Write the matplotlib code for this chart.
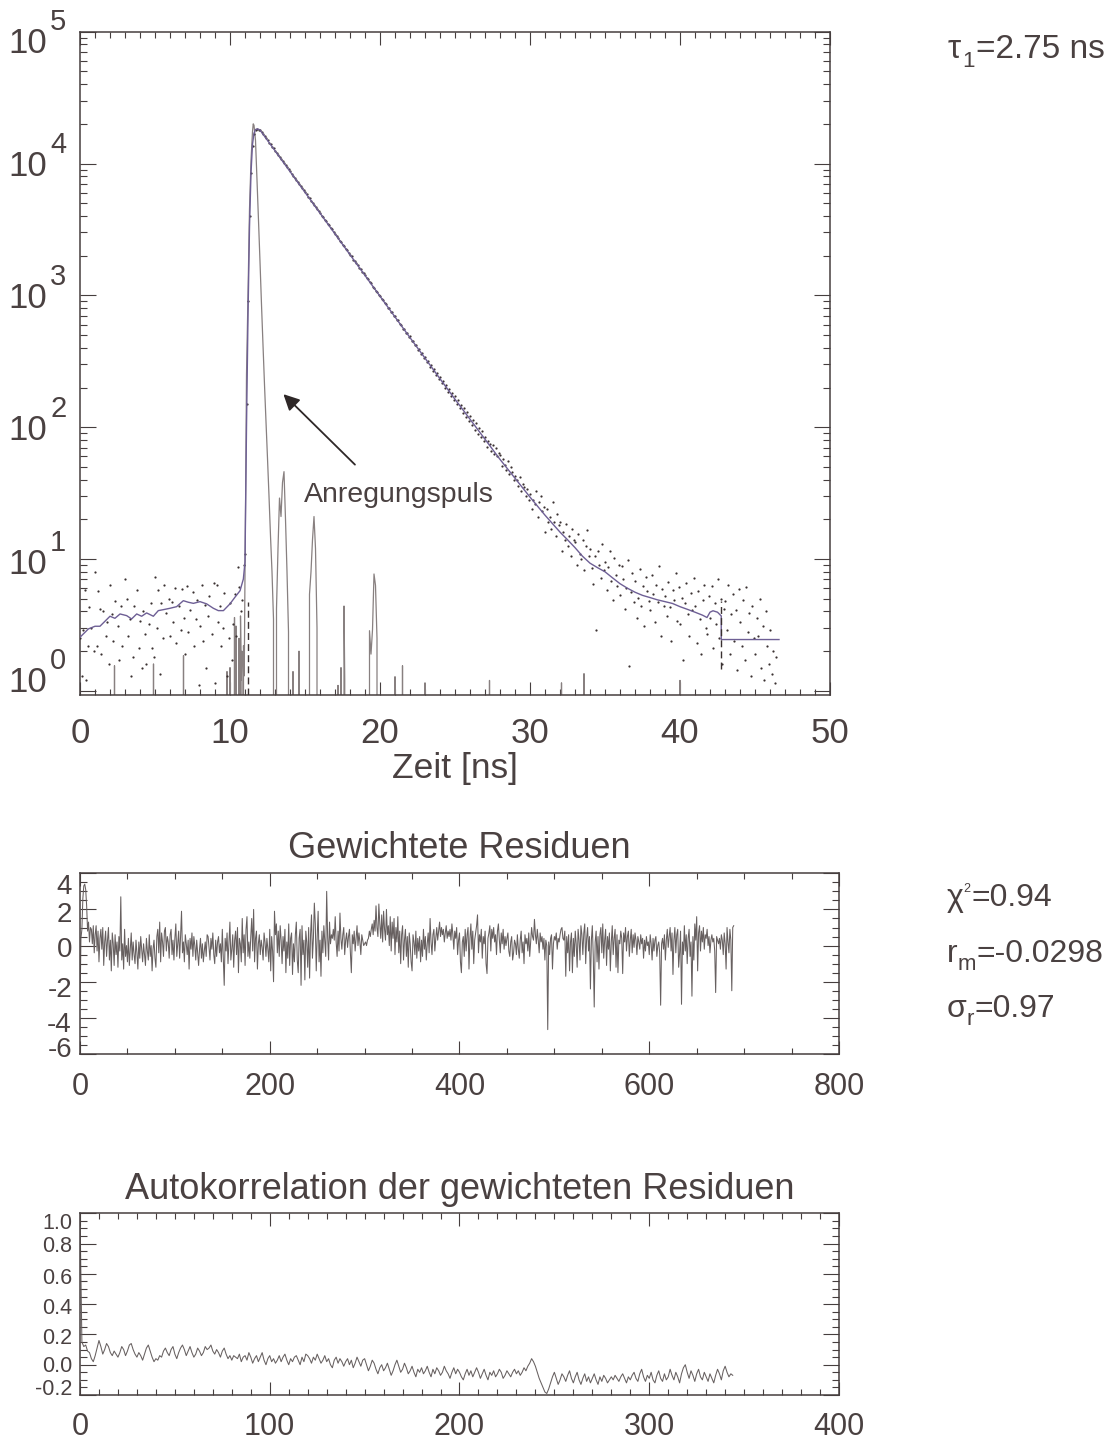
import numpy as np
import matplotlib
matplotlib.use("Agg")
import matplotlib.pyplot as plt
from matplotlib.ticker import MultipleLocator, LogLocator, NullFormatter
from matplotlib.text import Annotation

plt.rcParams['font.family'] = ['Liberation Sans', 'DejaVu Sans']

# ---------------- data ----------------
# measured decay (counts per 0.1 ns bin, starting at 0 ns)
sample_step_ns = 0.1
decay_counts = [
    2.5, 1.3, 2.9, 5.8, 1.2, 2.2, 4.3, 3.0, 0, 2.0,
    8.0, 2.2, 5.7, 4.2, 1.9, 4.0, 0, 2.6, 3.3, 1.6,
    6.3, 3.8, 2.4, 4.8, 0, 3.1, 1.7, 4.4, 2.2, 0,
    7.0, 5.0, 2.6, 3.5, 1.3, 1.8, 4.4, 0, 5.8, 2.1,
    3.4, 1.5, 4.0, 2.7, 1.6, 0, 3.2, 4.6, 2.1, 1.8,
    7.3, 3.0, 5.8, 1.35, 4.6, 2.5, 6.4, 3.9, 0, 5.0,
    2.6, 4.7, 3.3, 6.0, 2.3, 0, 4.4, 2.9, 5.9, 3.6,
    1.9, 6.2, 2.8, 4.1, 0, 5.6, 2.2, 3.5, 4.9, 1.1,
    3.1, 6.3, 2.4, 4.5, 1.5, 3.7, 5.2, 0, 2.7, 6.6,
    1.15, 6.3, 3.3, 4.4, 2.2, 3.0, 5.5, 0, 1.3, 2.5,
    4.6, 1.7, 3.2, 5.4, 2.6, 8.7, 6.1, 4.0, 4.9, 9.0,
    11, 150, 900, 4000, 8500, 13500, 16800, 18100, 18200, 18000,
    17950, 17400, 16700, 16180, 15520, 15050, 14430, 13990, 13420, 13010,
    12480, 12100, 11600, 11250, 10790, 10460, 10030, 9730, 9330, 9040,
    8720, 8360, 8110, 7770, 7540, 7230, 7010, 6720, 6520, 6250,
    6030, 5850, 5600, 5440, 5210, 5060, 4840, 4700, 4500, 4370,
    4220, 4030, 3930, 3750, 3650, 3490, 3390, 3240, 3160, 3020,
    2930, 2800, 2730, 2600, 2540, 2420, 2360, 2250, 2195, 2095,
    2020, 1975, 1870, 1835, 1745, 1705, 1620, 1590, 1505, 1475,
    1425, 1350, 1325, 1255, 1232, 1165, 1145, 1085, 1068, 1005,
    995, 935, 925, 868, 860, 808, 800, 752, 745, 698,
    695, 648, 645, 603, 600, 560, 556, 520, 518, 484,
    490, 450, 452, 418, 421, 388, 392, 360, 364, 334,
    340, 312, 316, 288, 294, 268, 274, 249, 256, 231,
    242, 216, 226, 200, 210, 186, 196, 173, 183, 162,
    172, 150, 160, 139, 148, 128, 140, 120, 130, 112,
    122, 104, 114, 96, 107, 89, 99, 84, 93, 78,
    84, 71, 78, 74, 66, 73, 63, 69, 60, 64,
    61, 51, 57, 52, 47, 55, 44, 50, 46, 40,
    43, 40, 36, 42, 33, 37, 35, 30, 34, 28,
    31, 24, 28, 26, 33, 21, 27, 30, 23, 25,
    16, 24, 19, 21, 17, 27, 19, 15, 22, 18,
    19, 11.5, 16, 14, 18.5, 12.5, 15, 10.5, 17, 14,
    13.5, 9, 15.5, 11, 10, 14, 8.2, 12.5, 16.5, 10.5,
    12, 8.5, 6.5, 10.5, 2.9, 11.5, 9, 7.2, 13, 8.3,
    9.5, 5.8, 8.7, 11.5, 6.8, 4.9, 10.2, 7.5, 6.2, 9,
    5.3, 8.9, 7.1, 4.2, 6, 9.8, 1.55, 5.6, 7.8, 4.7,
    6.8, 3.6, 5.1, 8.4, 4.4, 6.2, 3.1, 7.3, 5.7, 4.8,
    4.1, 7.6, 5.4, 3.3, 6.3, 4.7, 8.9, 2.6, 5.9, 4.4,
    5.2, 3.7, 6.7, 4.3, 2.4, 5.8, 4.9, 7.9, 3.4, 6.1,
    3.2, 5.1, 1.7, 4.6, 6.6, 3.8, 2.6, 5.5, 4.1, 7.2,
    4.4, 2.3, 5.7, 3.5, 1.9, 4.9, 6.4, 3.0, 2.7, 5.2,
    3.6, 6.2, 2.1, 4.6, 3.2, 7.1, 2.5, 5.0, 1.6, 4.2,
    4.8, 2.9, 6.3, 1.9, 3.8, 5.4, 2.4, 4.1, 1.45, 5.9,
    3.3, 2.2, 4.9, 1.7, 6.1, 2.8, 3.9, 1.3, 4.4, 2.5,
    1.9, 3.6, 2.6, 5.0, 1.5, 3.1, 1.2, 4.0, 2.2, 1.6,
    2.9, 1.35, 2.0, 1.15, 1.8,
]

# fitted curve (tau1 = 2.75 ns)
fit_time_ns = [
    0.0, 0.56, 1.0, 1.33, 2.0, 2.33, 2.67, 3.11, 3.44, 3.78,
    4.11, 4.44, 4.89, 5.22, 5.56, 6.0, 6.44, 6.89, 7.22, 7.56,
    8.0, 8.44, 8.89, 9.22, 9.56, 10.0, 10.33, 10.67, 10.89,
    11.0, 11.1, 11.2, 11.3, 11.4, 11.5, 11.6, 11.7, 11.8, 11.9, 12.0,
    13, 14, 15, 16, 17, 18, 19, 20, 21, 22, 23, 24, 25, 26, 27, 28, 29,
    30, 31, 32,
    32.5, 33, 33.5, 34, 34.5, 35, 35.5, 36, 36.5, 37,
    37.5, 38, 38.5, 39, 39.5, 40, 40.5, 41, 41.5,
    41.8, 42.0, 42.2, 42.5, 42.75, 42.75, 46.6,
]
fit_counts = [
    2.55, 2.95, 3.09, 3.09, 3.68, 3.55, 3.83, 3.72, 3.51, 3.83,
    3.68, 3.9, 3.68, 4.06, 4.13, 4.23, 4.35, 4.83, 4.7, 4.61,
    4.75, 4.57, 4.23, 4.06, 4.06, 4.57, 5.13, 5.75, 7.05,
    9.5, 100, 700, 3300, 8500, 14000, 17000, 18100, 18300, 18200, 17950,
    12510, 8700, 6050, 4207, 2925, 2035, 1416, 985, 686, 478, 334, 233, 163, 115, 81, 57, 41,
    29.5, 21.5, 16,
    14, 12.2, 10.5, 9.3, 8.6, 8.0, 7.2, 6.5, 6.0, 5.6,
    5.3, 5.1, 4.9, 4.75, 4.6, 4.35, 4.15, 3.95, 3.75,
    3.6, 3.95, 4.05, 3.95, 3.7, 2.45, 2.45,
]

# instrument response (excitation pulse)
irf_time_ns = [
    0.0, 2.25, 2.3, 2.35, 4.85, 4.9, 4.95, 6.85, 6.9, 6.95,
    9.75, 9.8, 9.85, 9.95, 10.0, 10.05, 10.25, 10.3, 10.35, 10.4,
    10.45, 10.55, 10.6, 10.65, 10.7, 10.75, 10.8, 10.85, 10.9, 10.95,
    11.0, 11.05, 11.1, 11.2, 11.3, 11.4, 11.5, 11.55, 11.6, 11.7,
    11.8, 11.9, 12.0, 12.1, 12.2, 12.3, 12.4, 12.5, 12.6, 12.7,
    12.8, 12.9, 13.0, 13.1, 13.2, 13.3, 13.4, 13.5, 13.6, 13.7,
    13.8, 13.9, 14.0, 14.15, 14.2, 14.25, 14.55, 14.6, 14.65, 15.2,
    15.3, 15.4, 15.5, 15.6, 15.7, 15.8, 15.9, 17.15, 17.2, 17.25,
    17.35, 17.4, 17.45, 17.55, 17.6, 17.65, 17.7, 19.25, 19.3, 19.4,
    19.5, 19.6, 19.7, 19.8, 19.9, 20.95, 21.0, 21.05, 21.45, 21.5,
    21.55, 22.95, 23.0, 23.05, 27.25, 27.3, 27.35, 32.05, 32.1, 32.15,
    33.55, 33.6, 33.65, 39.95, 40.0, 40.05, 46.5,
]
irf_counts = [
    0, 0, 1.55, 0, 0, 1.6, 0, 0, 1.85, 0,
    0, 1.4, 0, 0, 1.5, 0, 0, 3.6, 0, 3.1,
    0, 0, 2.5, 0, 3.7, 1.2, 2.0, 0, 2.2, 1.3,
    8, 40, 250, 1000, 4500, 10500, 17500, 20000, 19500, 15000,
    7500, 3700, 1800, 850, 420, 210, 110, 58, 30, 15,
    8, 3.5, 0, 4.2, 12, 29, 21, 38, 46, 20,
    8, 2.8, 0, 0, 1.4, 0, 0, 2.0, 0, 0,
    5.4, 8, 14, 21, 12, 3, 0, 0, 1.1, 0,
    0, 1.5, 0, 0, 4.4, 1.2, 0, 0, 2.86, 1.9,
    2.9, 7.7, 6.3, 2.5, 0, 0, 1.28, 0, 0, 1.55,
    0, 0, 1.15, 0, 0, 1.2, 0, 0, 1.15, 0,
    0, 1.35, 0, 0, 1.2, 0, 0,
]

# fit window markers
fit_window_ns = [11.2, 42.75]
fit_window_low = [0.93, 1.47]
fit_window_high = [4.7, 4.8]

# weighted residuals (per channel)
residuals = [
    -3.4, 0.4, 0.9, 2.6, 3.3, 3.4, 3.1, 2.2, 0.8, 1.3, 0.2, 1.0, 0.9, 0.1, 1.1, -0.4, 0.6, 1.1, -0.3, 0.8, -0.9, 0.4, 0.9, -0.2, 1.0, -1.1, 0.2, 0.8, -0.6, 0.3,
    1.0, -0.8, 0.3, -1.4, 0.7, 0.1, -1.1, 0.6, -0.5, 0.2, -1.2, 0.5, -0.3, 2.7, -0.8, 0.1, -1.3, 0.9, -0.6, 0.0, -0.9, 0.4, -1.1, -0.2, 0.7, -0.8, 0.2, -0.5, -1.0, 0.3,
    -0.4, -1.3, 0.2, -0.7, 0.5, -0.2, -0.9, 0.1, -0.5, -1.1, 0.4, -0.3, -0.8, 0.6, -0.6, 0.0, -1.4, -0.2, 0.3, -0.7, -1.2, 0.5, 0.9, -0.4, 1.3, -0.9, 0.7, 0.2, -0.6, 0.8,
    1.0, -0.3, 0.5, 0.2, -0.7, 0.6, 0.9, -0.5, 0.3, -0.8, 0.4, 1.2, -0.6, 0.1, 0.8, -0.7, 0.5, 1.9, -0.4, 0.2, -0.9, 0.6, 0.1, -0.5, 0.3, -1.3, 0.4, -0.2, 0.7, -0.6,
    0.5, 0.0, -0.8, 0.3, -0.4, -1.1, -0.2, 0.4, -0.7, 0.1, -0.9, -0.3, 0.2, -0.6, 0.6, 0.5, -0.1, -0.8, 0.4, -0.2, 0.7, -0.5, -1.0, 0.3, -0.6, 0.2, 0.5, -0.4, 0.1, -0.9,
    0.9, -0.7, -2.2, 0.4, -0.3, 0.7, -1.0, 0.2, 1.3, -0.8, -0.2, 0.6, -1.2, 0.3, 0.8, -0.5, 1.0, -1.5, 0.4, 0.1, -0.9, 1.5, -0.4, 0.6, -1.1, 0.9, 1.6, -0.6, 0.2, -0.7,
    0.5, 1.5, -0.3, 2.0, -0.9, 0.4, 0.8, -1.3, 0.1, 0.6, -0.5, 0.3, -0.1, -0.8, 0.7, 0.2, -0.6, 0.4, -0.2, -0.9, 0.9, -1.4, 0.5, -0.3, -2.0, 1.9, 0.6, 1.2, -0.4, 0.8,
    -0.6, 1.1, 0.3, -1.0, 0.5, -0.3, 0.9, -1.5, 0.2, -0.7, 1.2, -1.1, 0.4, 0.7, -1.6, 0.1, -0.9, 0.6, 1.3, -0.8, -1.5, 0.4, 0.9, -2.2, 1.1, -0.5, 0.3, -1.9, 0.8, 0.2,
    -1.2, 1.0, -1.8, 0.6, 1.7, -0.7, 0.4, 2.35, 1.2, -1.4, 0.5, 1.9, -0.9, 0.3, -1.7, 0.8, -0.4, 1.1, 0.2, -0.6, 3.0, 0.5, -0.8, 1.3, 0.1, 0.6, 0.4, 0.9, 0.3, 1.6,
    0.2, -0.6, 0.8, -0.3, 1.8, 0.4, -0.2, 0.6, 1.0, -0.5, 0.3, 0.7, -0.1, 0.5, 0.9, -0.4, -1.5, 0.6, 0.1, 0.8, -0.3, 0.4, 1.1, 0.0, 0.7, 0.2, -0.5, 0.6, 0.3, 0.0,
    0.1, 0.2, 0.0, 0.3, 0.4, 0.8, 0.5, 0.9, 1.2, 0.6, 1.4, 0.8, 2.2, 1.0, 0.5, 2.3, 1.2, 0.4, 1.7, 0.2, 1.9, 0.9, 0.3, 2.0, 0.6, 1.1, 0.0, 1.6, -0.3, 1.3,
    0.4, 1.5, -0.5, 1.0, 0.2, 1.6, -0.4, 0.8, -1.0, 0.6, 1.1, -0.8, 0.3, 0.9, -0.6, 0.5, -1.2, 0.7, 0.1, -0.9, -1.4, 0.6, 0.2, -0.5, 0.8, -0.7, 0.4, -0.3, 0.5, -0.9,
    0.3, -0.6, 0.9, -0.2, 0.5, -0.8, 0.1, 0.7, -0.4, 1.5, 0.2, -0.5, 0.6, 0.9, -0.3, 0.4, 1.0, 0.3, 0.8, 1.3, 0.5, 1.0, 0.6, 0.9, 0.2, 0.7, 1.1, 0.4, 0.8, 0.5,
    0.9, 0.3, 1.2, 0.6, -0.2, 0.8, 0.4, 1.0, -0.5, 0.3, 0.7, -0.9, -1.5, 0.2, 0.5, -0.6, 0.9, -0.3, 0.6, 1.0, -1.3, 0.4, 1.2, -0.2, 0.8, -1.0, 0.3, 0.7, 1.1, 1.7,
    -0.4, 0.6, 0.2, 0.9, -0.7, 0.5, 0.1, 0.8, -1.0, -1.55, 0.4, 0.7, 1.1, -0.3, 0.9, 0.4, 1.0, 0.2, 0.6, -0.5, 0.8, 1.2, 0.3, -0.4, 0.7, 0.1, 0.9, -0.2, 0.5, 0.0,
    0.4, 0.7, -0.3, -0.6, 0.2, 0.5, -0.8, -0.4, 0.3, 0.1, -0.5, 0.6, -0.2, -0.7, 0.3, 0.8, -0.4, 0.2, -1.0, 0.6, 0.1, 0.4, -0.3, 0.7, -0.6, 0.2, 1.0, 0.5, 0.3, 1.45,
    0.6, 0.1, 0.9, 0.3, -0.4, 0.7, 0.2, 0.5, -0.2, 0.4, -0.8, 0.3, 0.0, -4.65, 0.2, -0.5, 0.4, 0.6, -1.3, 0.1, 0.5, 0.3, 0.7, -0.2, 0.4, 0.2, 0.6, 0.9, 1.0, 0.4,
    0.3, 0.8, -1.7, 0.5, -0.4, 0.6, -1.4, 0.2, 0.7, -1.5, 0.4, -0.6, 0.8, 0.1, -1.2, 0.9, 0.3, -0.8, 1.1, 0.6, -0.5, 0.7, 1.2, -1.0, 0.4, 1.0, -0.3, 0.5, -2.4, 0.3,
    1.1, -0.6, -3.4, 0.2, 0.8, -0.9, 0.5, -1.3, 0.6, 1.0, -0.4, 1.2, -0.7, 0.3, 0.9, -1.1, 0.5, -0.2, 0.7, -1.4, 0.2, 1.1, -0.5, 0.4, 0.9, -1.2, 0.6, -1.5, 0.3, 0.1,
    0.8, 0.4, -1.55, 0.7, 0.2, 1.0, -0.3, 0.5, 0.8, -0.6, 0.3, 0.9, -0.4, 0.6, -0.1, 0.7, 0.3, -0.5, 0.5, 0.2, -0.2, 0.6, 0.1, 0.4, -0.7, 0.3, -0.3, 0.5, 0.0, 0.2,
    -0.5, 0.6, 0.1, -0.8, 0.4, -0.3, 0.3, 0.5, -0.6, 0.0, 0.2, -0.4, -3.3, 0.1, 0.4, -0.2, 0.6, -0.8, 0.3, 0.9, -0.1, 0.5, 1.0, -0.3, 0.7, -1.6, 0.3, 1.0, -0.4, 0.6,
    0.9, -1.2, -0.4, 0.8, -3.25, 0.2, -0.5, 1.1, -0.3, 0.6, -1.0, 0.4, 0.9, -0.6, 0.2, -2.8, 0.5, -0.8, 1.2, 0.3, 1.6, -1.4, 0.7, 1.1, -0.3, 0.8, 0.2, 1.0, -0.2, 0.6,
    0.4, 0.9, 0.0, 0.5, -0.4, 0.3, 0.6, 0.2, 0.4, -0.3, -2.6, 0.5, 0.3, 0.1, 0.4, -0.2, 0.6, 0.3, -0.5, 0.7, 0.1, -1.3, 1.0, 0.2, -0.4, 0.9, 0.3, -2.5, 1.0, 1.1,
]

# autocorrelation of the weighted residuals
autocorr = [
    1.0, 0.15, 0.12, 0.13, 0.09, 0.08, 0.04, 0.02, 0.06, 0.11, 0.16, 0.12, 0.07, 0.10, 0.14, 0.12, 0.08, 0.06, 0.09, 0.07, 0.05, 0.08, 0.12, 0.10, 0.06, 0.09, 0.13, 0.14, 0.10, 0.07,
    0.05, 0.08, 0.06, 0.03, 0.07, 0.11, 0.13, 0.09, 0.05, 0.02, 0.04, 0.03, 0.06, 0.05, 0.09, 0.11, 0.08, 0.06, 0.10, 0.12, 0.07, 0.04, 0.08, 0.11, 0.13, 0.10, 0.06, 0.09, 0.12, 0.08,
    0.05, 0.07, 0.11, 0.09, 0.06, 0.08, 0.12, 0.10, 0.11, 0.13, 0.09, 0.07, 0.10, 0.08, 0.05, 0.09, 0.11, 0.07, 0.04, 0.06, 0.03, 0.06, 0.05, 0.04, 0.07, 0.02, 0.05, 0.06, 0.03, 0.08,
    0.05, 0.01, 0.04, 0.06, 0.02, 0.05, 0.08, 0.03, 0.00, 0.04, 0.06, 0.02, 0.04, 0.01, 0.03, 0.06, 0.02, 0.05, 0.07, 0.03, 0.00, 0.04, 0.02, 0.05, 0.06, 0.03, 0.00, 0.05, 0.02, 0.07,
    0.06, 0.04, 0.01, 0.05, 0.03, 0.07, 0.04, 0.01, 0.03, 0.06, 0.02, 0.04, 0.00, -0.02, 0.03, 0.05, 0.01, 0.04, 0.02, -0.01, 0.02, 0.04, 0.00, 0.03, -0.02, 0.01, 0.05, 0.02, -0.01, 0.03,
    0.04, 0.00, -0.04, -0.01, 0.03, 0.01, -0.03, -0.06, -0.02, 0.00, -0.04, -0.02, 0.01, -0.03, -0.07, -0.04, 0.00, 0.03, -0.01, -0.05, -0.03, 0.01, -0.02, -0.06, -0.04, -0.01, -0.05, -0.08, -0.03, -0.05,
    -0.02, -0.06, -0.04, -0.01, -0.05, -0.08, -0.03, -0.06, -0.02, -0.04, -0.07, -0.05, -0.01, -0.04, -0.06, -0.09, -0.05, -0.02, -0.06, -0.03, -0.05, -0.08, -0.10, -0.06, -0.03, -0.07, -0.04, -0.08, -0.05, -0.02,
    -0.05, -0.09, -0.06, -0.03, -0.07, -0.10, -0.05, -0.07, -0.04, -0.08, -0.06, -0.03, -0.05, -0.09, -0.07, -0.04, -0.06, -0.08, -0.05, -0.03, -0.06, -0.04, -0.07, -0.05, -0.02, -0.04, -0.01, 0.01, 0.04, 0.02,
    -0.01, -0.05, -0.09, -0.12, -0.15, -0.18, -0.19, -0.16, -0.12, -0.08, -0.05, -0.09, -0.13, -0.10, -0.06, -0.08, -0.11, -0.07, -0.04, -0.09, -0.12, -0.08, -0.05, -0.10, -0.13, -0.09, -0.06, -0.11, -0.08, -0.12,
    -0.09, -0.06, -0.10, -0.13, -0.08, -0.11, -0.07, -0.09, -0.12, -0.10, -0.08, -0.10, -0.07, -0.09, -0.11, -0.08, -0.06, -0.09, -0.12, -0.08, -0.10, -0.07, -0.05, -0.09, -0.11, -0.06, -0.03, -0.08, -0.11, -0.07,
    -0.09, -0.05, -0.10, -0.12, -0.07, -0.04, -0.09, -0.11, -0.06, -0.10, -0.08, -0.03, -0.07, -0.10, -0.05, -0.08, -0.12, -0.06, -0.02, 0.00, -0.05, -0.09, -0.04, -0.07, -0.11, -0.06, -0.03, -0.08, -0.10, -0.05,
    -0.08, -0.11, -0.06, -0.09, -0.12, -0.07, -0.03, -0.06, -0.10, -0.04, -0.01, -0.05, -0.08, -0.06, -0.07,
]

log_ticks_exp = [0, 1, 2, 3, 4, 5]
resid_ticks = [4, 2, 0, -2, -4, -6]
acf_ticks = [1.0, 0.8, 0.6, 0.4, 0.2, 0.0, -0.2]

# ---------------- figure ----------------
W, H, DPI = 1117, 1441, 100
fig = plt.figure(figsize=(W / DPI, H / DPI), dpi=DPI)
fig.patch.set_facecolor('white')

TXT = '#4a4141'
AXC = '#463e3e'
DOT = '#3a3131'
FITC = '#6e5f95'
IRFC = '#888080'
LINEC = '#676060'


def px_axes(l, t, r, b):
    return fig.add_axes([l / W, 1 - b / H, (r - l) / W, (b - t) / H])


ax1 = px_axes(80, 31.7, 830, 695)
ax2 = px_axes(80, 873.3, 839, 1054)
ax3 = px_axes(80, 1213.3, 839, 1395)

for ax in (ax1, ax2, ax3):
    for s in ax.spines.values():
        s.set_color(AXC)
        s.set_linewidth(1.1)
    ax.tick_params(which='both', direction='in', top=True, right=True,
                   colors=AXC, width=0.8, labelcolor=TXT, labelleft=False)

# ---- top panel ----
t_data = np.arange(len(decay_counts)) * sample_step_ns
ax1.set_yscale('log')
ax1.set_xlim(0, 50)
ax1.set_ylim(0.93, 1e5)
ax1.plot(irf_time_ns, irf_counts, color=IRFC, lw=0.9, zorder=2)
ax1.plot(t_data, decay_counts, 'o', ms=1.6, mew=0, color=DOT, zorder=3)
ax1.plot(fit_time_ns, fit_counts, color=FITC, lw=1.0, zorder=4)
ax1.vlines(fit_window_ns, fit_window_low, fit_window_high, colors=DOT,
           linestyles=(0, (5, 3)), lw=1.0, zorder=5)

ax1.xaxis.set_major_locator(MultipleLocator(10))
ax1.xaxis.set_minor_locator(MultipleLocator(1))
ax1.yaxis.set_major_locator(LogLocator(base=10, numticks=10))
ax1.yaxis.set_minor_locator(LogLocator(base=10, subs=np.arange(2, 10), numticks=20))
ax1.yaxis.set_major_formatter(NullFormatter())
ax1.yaxis.set_minor_formatter(NullFormatter())
ax1.tick_params(axis='x', which='major', length=9.4, labelsize=25, pad=15.8)
ax1.tick_params(axis='x', which='minor', length=4.3)
ax1.tick_params(axis='y', which='major', length=11.5)
ax1.tick_params(axis='y', which='minor', length=5)

base_off = {0: -1, 1: -15, 2: -13, 3: -12.5, 4: -12.7, 5: -21.3}
for k in log_ticks_exp:
    ax1.annotate('10', xy=(0, 10.0 ** k), xycoords=('axes fraction', 'data'),
                 xytext=(-33, base_off[k]), textcoords='offset pixels',
                 ha='right', va='baseline', fontsize=25, color=TXT,
                 annotation_clip=False)
    ax1.annotate(str(k), xy=(0, 10.0 ** k), xycoords=('axes fraction', 'data'),
                 xytext=(-30, base_off[k] + 23), textcoords='offset pixels',
                 ha='left', va='baseline', fontsize=21, color=TXT,
                 annotation_clip=False)

ax1.annotate('Zeit [ns]', xy=(0.5, 0), xycoords='axes fraction',
             xytext=(0, -83), textcoords='offset pixels', ha='center',
             va='baseline', fontsize=25.5, color=TXT)

ax1.annotate('', xy=(13.56, 178), xytext=(18.33, 52),
             arrowprops=dict(arrowstyle='-|>', color='#2e2727', lw=1.3,
                             mutation_scale=24, shrinkA=0, shrinkB=0))
ax1.text(14.93, 27.0, 'Anregungspuls', fontsize=20.5, color=TXT,
         ha='left', va='baseline')

# ---- residual panel ----
ax2.plot(np.arange(len(residuals)), residuals, color=LINEC, lw=0.75)
ax2.set_xlim(0, 800)
ax2.set_ylim(-6, 4)
ax2.xaxis.set_major_locator(MultipleLocator(200))
ax2.xaxis.set_minor_locator(MultipleLocator(50))
ax2.yaxis.set_major_locator(MultipleLocator(2))
ax2.yaxis.set_minor_locator(MultipleLocator(0.5))
ax2.tick_params(axis='x', which='major', length=9.4, labelsize=22, pad=13)
ax2.tick_params(axis='x', which='minor', length=4.3)
ax2.tick_params(axis='y', which='major', length=11.5)
ax2.tick_params(axis='y', which='minor', length=5)
res_shift = [10.3, 2.6, 1.4, 5.3, 4.2, -7]
for v, sh in zip(resid_ticks, res_shift):
    ax2.annotate(str(v), xy=(0, v), xycoords=('axes fraction', 'data'),
                 xytext=(-8, -(sh + 10)), textcoords='offset pixels',
                 ha='right', va='baseline', fontsize=20, color=TXT,
                 annotation_clip=False)
ax2.annotate('Gewichtete Residuen', xy=(0.5, 1), xycoords='axes fraction',
             xytext=(0, 15), textcoords='offset pixels', ha='center',
             va='baseline', fontsize=26, color=TXT)

# ---- autocorrelation panel ----
ax3.plot(np.arange(len(autocorr)), autocorr, color=LINEC, lw=0.75)
ax3.set_xlim(0, 400)
ax3.set_ylim(-0.2, 1.0)
ax3.xaxis.set_major_locator(MultipleLocator(100))
ax3.xaxis.set_minor_locator(MultipleLocator(10))
ax3.yaxis.set_major_locator(MultipleLocator(0.2))
ax3.yaxis.set_minor_locator(MultipleLocator(0.05))
ax3.tick_params(axis='x', which='major', length=9.4, labelsize=22, pad=12)
ax3.tick_params(axis='x', which='minor', length=4.3)
ax3.tick_params(axis='y', which='major', length=11.5)
ax3.tick_params(axis='y', which='minor', length=5)
acf_shift = [8.0, 1.0, 2, 2, 1.5, -0.7, -7.5]
for v, sh in zip(acf_ticks, acf_shift):
    ax3.annotate('%.1f' % v, xy=(0, v), xycoords=('axes fraction', 'data'),
                 xytext=(-8, -(sh + 7.7)), textcoords='offset pixels',
                 ha='right', va='baseline', fontsize=15.5, color=TXT,
                 annotation_clip=False)
ax3.annotate('Autokorrelation der gewichteten Residuen', xy=(0.5, 1),
             xycoords='axes fraction', xytext=(0, 14), textcoords='offset pixels',
             ha='center', va='baseline', fontsize=26, color=TXT)


# ---- parameter texts on the right ----
def compose(x_px, base_px, parts):
    prev = None
    yfig = H - base_px
    for s, fs, dx, dy in parts:
        if prev is None:
            a = Annotation(s, xy=(x_px, yfig), xycoords='figure pixels',
                           xytext=(0, dy), textcoords='offset pixels',
                           ha='left', va='baseline', fontsize=fs, color=TXT)
        else:
            a = Annotation(s, xy=(1, yfig), xycoords=(prev, 'figure pixels'),
                           xytext=(dx, dy), textcoords='offset pixels',
                           ha='left', va='baseline', fontsize=fs, color=TXT)
        fig.add_artist(a)
        prev = a


compose(948, 58, [('τ', 24, 0, 0), ('1', 16, 1, -8.7), ('=2.75 ns', 24, 1, 0)])
compose(946.7, 905.7, [('χ', 23, 0, 0), ('2', 9, 0, 14), ('=0.94', 23, 1, 0)])
compose(946.7, 962, [('r', 23, 0, 0), ('m', 16, 0, -8), ('=-0.0298', 23, 1, 0)])
compose(946.7, 1017, [('σ', 23, 0, 0), ('r', 16, 0, -8), ('=0.97', 23, 1, 0)])

fig.savefig('out.png', dpi=DPI, facecolor='white')
